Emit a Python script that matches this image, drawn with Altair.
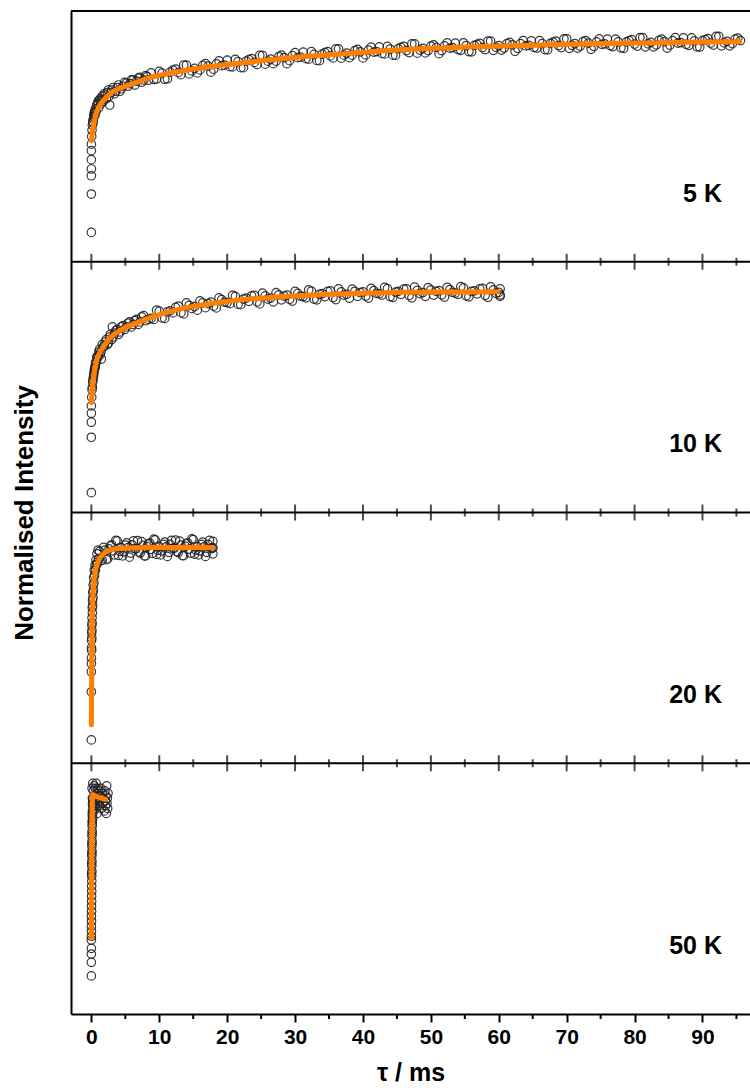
import altair as alt
import pandas as pd

FONT = "Liberation Sans"

PANELS = ["5 K", "10 K", "20 K", "50 K"]
MAJOR_TICKS = [0, 10, 20, 30, 40, 50, 60, 70, 80, 90]
MINOR_TICKS = [5, 15, 25, 35, 45, 55, 65, 75, 85, 95]

# ---------------- 5 K ----------------
T_5K = [0, 0, 0, 0, 0, 0, 0,
        0.05, 0.1, 0.15, 0.2, 0.3, 0.4, 0.5, 0.6, 0.7, 0.8,
        1.0, 1.2, 1.4, 1.6, 1.9, 2.2, 2.5, 2.7, 2.9, 3.2,
        3.6, 4.0, 4.4, 4.9, 5.4, 5.9, 6.4, 6.9, 7.4, 8.0, 8.4,
        8.8, 9.6, 10.4, 11.2, 12.0, 12.8, 13.6, 14.4, 15.2, 16.0,
        16.8, 17.6, 18.4, 19.2, 20.0, 20.8, 21.6, 22.4, 23.2, 24.0,
        24.8, 25.6, 26.4, 27.2, 28.0, 28.8, 29.6, 30.4, 31.2, 32.0,
        32.8, 33.6, 34.4, 35.2, 36.0, 36.8, 37.6, 38.4, 39.2, 40.0,
        40.8, 41.6, 42.4, 43.2, 44.0, 44.8, 45.6, 46.4, 47.2, 48.0,
        48.8, 49.6, 50.4, 51.2, 52.0, 52.8, 53.6, 54.4, 55.2, 56.0,
        56.8, 57.6, 58.4, 59.2, 60.0, 60.8, 61.6, 62.4, 63.2, 64.0,
        64.8, 65.6, 66.4, 67.2, 68.0, 68.8, 69.6, 70.4, 71.2, 72.0,
        72.8, 73.6, 74.4, 75.2, 76.0, 76.8, 77.6, 78.4, 79.2, 80.0,
        80.8, 81.6, 82.4, 83.2, 84.0, 84.8, 85.6, 86.4, 87.2, 88.0,
        88.8, 89.6, 90.4, 91.2, 92.0, 92.8, 93.6, 94.4, 95.2]
V_5K = [0.117, 0.27, 0.343, 0.37, 0.407, 0.443, 0.469,
        0.50, 0.525, 0.545, 0.56, 0.57, 0.59, 0.60, 0.61, 0.60, 0.625,
        0.64, 0.645, 0.63, 0.66, 0.67, 0.65, 0.685, 0.625, 0.675, 0.695,
        0.68, 0.705, 0.69, 0.715, 0.70, 0.725, 0.705, 0.732, 0.716, 0.742, 0.724,
        0.753, 0.729, 0.752, 0.730, 0.764, 0.754, 0.784, 0.749, 0.771, 0.765,
        0.790, 0.756, 0.789, 0.782, 0.804, 0.777, 0.798, 0.774, 0.806, 0.795,
        0.823, 0.788, 0.808, 0.800, 0.824, 0.790, 0.822, 0.814, 0.836, 0.808,
        0.827, 0.802, 0.834, 0.821, 0.849, 0.812, 0.832, 0.824, 0.847, 0.813,
        0.844, 0.836, 0.857, 0.829, 0.848, 0.824, 0.855, 0.842, 0.869, 0.832,
        0.851, 0.842, 0.865, 0.830, 0.861, 0.852, 0.872, 0.843, 0.862, 0.837,
        0.867, 0.854, 0.880, 0.843, 0.862, 0.852, 0.875, 0.839, 0.870, 0.861,
        0.881, 0.852, 0.870, 0.845, 0.876, 0.862, 0.889, 0.851, 0.870, 0.860,
        0.882, 0.847, 0.877, 0.867, 0.888, 0.858, 0.877, 0.851, 0.882, 0.868,
        0.894, 0.857, 0.875, 0.865, 0.888, 0.852, 0.882, 0.872, 0.893, 0.863,
        0.881, 0.856, 0.886, 0.872, 0.899, 0.861, 0.879, 0.870, 0.892]
T_5K_B = [0.25, 0.35, 0.45, 0.55, 0.9, 1.1, 1.3, 1.5, 1.75, 2.05,
          2.35, 2.6, 3.0, 3.4, 3.8, 4.2, 4.65, 5.15, 5.65, 6.15,
          6.65, 7.15, 7.7, 8.2,
          9.2, 10.0, 10.8, 11.6, 12.4, 13.2, 14.0, 14.8, 15.6, 16.4,
          17.2, 18.0, 18.8, 19.6, 20.4, 21.2, 22.0, 22.8, 23.6, 24.4,
          25.2, 26.0, 26.8, 27.6, 28.4, 29.2, 30.0, 30.8, 31.6, 32.4,
          33.2, 34.0, 34.8, 35.6, 36.4, 37.2, 38.0, 38.8, 39.6, 40.4,
          41.2, 42.0, 42.8, 43.6, 44.4, 45.2, 46.0, 46.8, 47.6, 48.4,
          49.2, 50.0, 50.8, 51.6, 52.4, 53.2, 54.0, 54.8, 55.6, 56.4,
          57.2, 58.0, 58.8, 59.6, 60.4, 61.2, 62.0, 62.8, 63.6, 64.4,
          65.2, 66.0, 66.8, 67.6, 68.4, 69.2, 70.0, 70.8, 71.6, 72.4,
          73.2, 74.0, 74.8, 75.6, 76.4, 77.2, 78.0, 78.8, 79.6, 80.4,
          81.2, 82.0, 82.8, 83.6, 84.4, 85.2, 86.0, 86.8, 87.6, 88.4,
          89.2, 90.0, 90.8, 91.6, 92.4, 93.2, 94.0, 94.8, 95.6]
V_5K_B = [0.555, 0.58, 0.595, 0.585, 0.63, 0.615, 0.65, 0.645, 0.64, 0.665,
          0.675, 0.66, 0.685, 0.67, 0.695, 0.68, 0.70, 0.712, 0.71, 0.725,
          0.72, 0.735, 0.725, 0.738,
          0.727, 0.759, 0.728, 0.756, 0.768, 0.746, 0.784, 0.761, 0.753, 0.783,
          0.780, 0.768, 0.801, 0.784, 0.778, 0.807, 0.774, 0.800, 0.810, 0.787,
          0.823, 0.800, 0.790, 0.818, 0.814, 0.802, 0.834, 0.816, 0.810, 0.838,
          0.803, 0.828, 0.838, 0.813, 0.849, 0.824, 0.814, 0.842, 0.837, 0.825,
          0.856, 0.838, 0.831, 0.859, 0.824, 0.850, 0.859, 0.834, 0.869, 0.844,
          0.833, 0.860, 0.855, 0.842, 0.873, 0.854, 0.846, 0.873, 0.838, 0.863,
          0.871, 0.846, 0.880, 0.855, 0.844, 0.870, 0.865, 0.851, 0.882, 0.863,
          0.855, 0.882, 0.846, 0.871, 0.880, 0.854, 0.889, 0.863, 0.852, 0.878,
          0.872, 0.859, 0.889, 0.869, 0.862, 0.888, 0.853, 0.877, 0.886, 0.860,
          0.894, 0.869, 0.857, 0.883, 0.878, 0.864, 0.894, 0.874, 0.867, 0.893,
          0.857, 0.882, 0.890, 0.864, 0.899, 0.873, 0.861, 0.888, 0.882]
FIT_T_5K = [0, 0.3, 0.6, 1.2, 2.0, 2.7, 4.0, 5.3, 6.6, 9.0, 11.5, 16.0, 21.4,
            26.0, 31.0, 38.0, 46.0, 55.0, 63.0, 70.0, 80.0, 88.0, 95.5]
FIT_V_5K = [0.483, 0.54, 0.58, 0.622, 0.65, 0.669, 0.69, 0.703, 0.715, 0.737,
            0.752, 0.773, 0.791, 0.805, 0.818, 0.831, 0.846, 0.856, 0.862,
            0.867, 0.872, 0.875, 0.878]

# ---------------- 10 K ----------------
T_10K = [0, 0, 0, 0, 0,
         0.05, 0.1, 0.15, 0.2, 0.3, 0.4, 0.5, 0.6, 0.7, 0.8,
         1.0, 1.2, 1.4, 1.47, 1.6, 1.9, 2.2, 2.5, 2.8, 3.1,
         3.2, 3.6, 4.0, 4.4, 4.9, 5.4, 5.9, 6.4, 6.9, 7.4, 8.0,
         8.8, 9.6, 10.4, 11.2, 12.0, 12.8, 13.6, 14.4, 15.2, 16.0,
         16.8, 17.6, 18.4, 19.2, 20.0, 20.8, 21.6, 22.4, 23.2, 24.0,
         24.8, 25.6, 26.4, 27.2, 28.0, 28.8, 29.6, 30.4, 31.2, 32.0,
         32.8, 33.6, 34.4, 35.2, 36.0, 36.8, 37.6, 38.4, 39.2, 40.0,
         40.8, 41.6, 42.4, 43.2, 44.0, 44.8, 45.6, 46.4, 47.2, 48.0,
         48.8, 49.6, 50.4, 51.2, 52.0, 52.8, 53.6, 54.4, 55.2, 56.0,
         56.8, 57.6, 58.4, 59.2, 60.0, 60.2, 60.2]
V_10K = [0.425, 0.396, 0.36, 0.30, 0.079,
         0.46, 0.49, 0.50, 0.52, 0.54, 0.56, 0.575, 0.59, 0.60, 0.62,
         0.625, 0.65, 0.64, 0.612, 0.67, 0.665, 0.69, 0.675, 0.71, 0.74,
         0.70, 0.725, 0.71, 0.74, 0.73, 0.755, 0.74, 0.765, 0.75, 0.78, 0.765,
         0.774, 0.807, 0.776, 0.800, 0.796, 0.823, 0.792, 0.826, 0.821, 0.844,
         0.817, 0.839, 0.816, 0.849, 0.837, 0.866, 0.831, 0.851, 0.842, 0.866,
         0.832, 0.864, 0.855, 0.877, 0.848, 0.867, 0.843, 0.874, 0.861, 0.888,
         0.851, 0.870, 0.861, 0.884, 0.849, 0.880, 0.870, 0.891, 0.862, 0.880,
         0.855, 0.885, 0.872, 0.898, 0.861, 0.879, 0.870, 0.892, 0.856, 0.886,
         0.877, 0.897, 0.867, 0.885, 0.859, 0.889, 0.875, 0.901, 0.864, 0.882,
         0.872, 0.894, 0.858, 0.888, 0.878, 0.892, 0.868]
T_10K_B = [0.25, 0.35, 0.45, 0.55, 0.65, 0.9, 1.1, 1.3, 1.75, 2.05,
           2.35, 2.65, 3.0, 3.4, 3.8, 4.2, 4.65, 5.15, 5.65, 6.15,
           6.65, 7.15, 7.7, 8.4,
           9.2, 10.0, 10.8, 11.6, 12.4, 13.2, 14.0, 14.8, 15.6, 16.4,
           17.2, 18.0, 18.8, 19.6, 20.4, 21.2, 22.0, 22.8, 23.6, 24.4,
           25.2, 26.0, 26.8, 27.6, 28.4, 29.2, 30.0, 30.8, 31.6, 32.4,
           33.2, 34.0, 34.8, 35.6, 36.4, 37.2, 38.0, 38.8, 39.6, 40.4,
           41.2, 42.0, 42.8, 43.6, 44.4, 45.2, 46.0, 46.8, 47.6, 48.4,
           49.2, 50.0, 50.8, 51.6, 52.4, 53.2, 54.0, 54.8, 55.6, 56.4,
           57.2, 58.0, 58.8, 59.6, 60.2]
V_10K_B = [0.53, 0.55, 0.57, 0.58, 0.60, 0.615, 0.64, 0.63, 0.66, 0.68,
           0.67, 0.70, 0.69, 0.715, 0.73, 0.72, 0.745, 0.74, 0.76, 0.75,
           0.77, 0.76, 0.785, 0.77,
           0.770, 0.803, 0.774, 0.804, 0.818, 0.797, 0.836, 0.814, 0.807, 0.836,
           0.833, 0.823, 0.856, 0.839, 0.833, 0.862, 0.829, 0.855, 0.864, 0.840,
           0.875, 0.851, 0.840, 0.868, 0.863, 0.850, 0.882, 0.863, 0.856, 0.883,
           0.848, 0.873, 0.882, 0.857, 0.892, 0.867, 0.855, 0.882, 0.877, 0.863,
           0.894, 0.874, 0.867, 0.893, 0.858, 0.882, 0.891, 0.865, 0.899, 0.873,
           0.862, 0.888, 0.882, 0.868, 0.898, 0.878, 0.870, 0.896, 0.860, 0.884,
           0.892, 0.866, 0.900, 0.874, 0.862]
FIT_T_10K = [0, 0.2, 0.49, 0.8, 1.2, 2.0, 2.7, 4.0, 5.0, 6.6, 9.0, 11.5, 15.0,
             18.9, 22.0, 26.2, 31.0, 36.1, 41.0, 45.9, 52.0, 59.9]
FIT_V_10K = [0.438, 0.51, 0.568, 0.61, 0.635, 0.67, 0.695, 0.722, 0.738, 0.755,
             0.78, 0.801, 0.822, 0.838, 0.848, 0.857, 0.865, 0.871, 0.875,
             0.878, 0.879, 0.880]

# ---------------- 20 K ----------------
T_20K = [0, 0, 0, 0,
         0.01, 0.02, 0.03, 0.04, 0.05, 0.06, 0.07, 0.08, 0.1, 0.11,
         0.13, 0.15, 0.17, 0.19, 0.21, 0.24, 0.27, 0.3, 0.34, 0.38,
         0.43, 0.48, 0.54, 0.6, 0.67, 0.74, 0.82, 0.9, 0.98, 1.05,
         1.2, 1.6, 2.0, 2.4, 2.8, 3.2, 3.6, 4.0, 4.4, 4.8,
         5.2, 5.6, 6.0, 6.4, 6.8, 7.2, 7.6, 8.0, 8.4, 8.8,
         9.2, 9.6, 10.0, 10.4, 10.8, 11.2, 11.6, 12.0, 12.4, 12.8,
         13.2, 13.6, 14.0, 14.4, 14.8, 15.2, 15.6, 16.0, 16.4, 16.8,
         17.2, 17.6, 17.9, 17.9, 17.9]
V_20K = [0.093, 0.285, 0.365, 0.398,
         0.42, 0.46, 0.49, 0.45, 0.52, 0.50, 0.55, 0.53, 0.58, 0.56,
         0.62, 0.60, 0.65, 0.63, 0.68, 0.66, 0.71, 0.69, 0.74, 0.72,
         0.77, 0.75, 0.79, 0.77, 0.81, 0.79, 0.835, 0.80, 0.85, 0.815,
         0.845, 0.810, 0.850, 0.815, 0.867, 0.847, 0.889, 0.829, 0.860, 0.844,
         0.879, 0.822, 0.871, 0.855, 0.888, 0.838, 0.869, 0.827, 0.875, 0.853,
         0.894, 0.833, 0.864, 0.847, 0.882, 0.825, 0.873, 0.857, 0.890, 0.840,
         0.870, 0.828, 0.876, 0.854, 0.895, 0.834, 0.864, 0.847, 0.882, 0.825,
         0.873, 0.857, 0.885, 0.835, 0.86]
T_20K_B = [1.4, 1.8, 2.2, 2.6, 3.0, 3.4, 3.8, 4.2, 4.6, 5.0,
           5.4, 5.8, 6.2, 6.6, 7.0, 7.4, 7.8, 8.2, 8.6, 9.0,
           9.4, 9.8, 10.2, 10.6, 11.0, 11.4, 11.8, 12.2, 12.6, 13.0,
           13.4, 13.8, 14.2, 14.6, 15.0, 15.4, 15.8, 16.2, 16.6, 17.0,
           17.4, 17.8]
V_20K_B = [0.807, 0.861, 0.812, 0.855, 0.871, 0.831, 0.887, 0.845, 0.827, 0.870,
           0.860, 0.838, 0.887, 0.855, 0.842, 0.884, 0.827, 0.865, 0.878, 0.837,
           0.891, 0.849, 0.831, 0.873, 0.863, 0.841, 0.889, 0.857, 0.844, 0.886,
           0.828, 0.866, 0.879, 0.838, 0.892, 0.850, 0.831, 0.873, 0.863, 0.841,
           0.889, 0.857]
FIT_T_20K = [0, 0.02, 0.05, 0.1, 0.24, 0.49, 0.98, 1.72, 2.7, 4.66, 8.0, 17.9]
FIT_V_20K = [0.153, 0.25, 0.38, 0.53, 0.671, 0.751, 0.804, 0.833, 0.850,
             0.857, 0.860, 0.860]

# ---------------- 50 K ----------------
T_50K = [0, 0, 0, 0, 0,
         0.0, 0.01, 0.0, 0.02, 0.01, 0.03, 0.02, 0.04, 0.03, 0.05,
         0.04, 0.06, 0.05, 0.07, 0.06, 0.08, 0.07, 0.09, 0.08, 0.1,
         0.09, 0.11, 0.12, 0.13, 0.14, 0.16, 0.18,
         0.03, 0.05, 0.07, 0.09, 0.11, 0.13, 0.15, 0.17, 0.19, 0.21,
         0.1, 0.15, 0.2, 0.25, 0.3, 0.35, 0.4, 0.45, 0.5, 0.55,
         0.6, 0.65, 0.7, 0.75, 0.8, 0.85, 0.9, 0.95, 1.0, 1.05,
         1.1, 1.2, 1.3, 1.4, 1.5, 1.6, 1.7, 1.8, 1.9, 2.0,
         2.05, 2.1, 2.15, 2.2, 2.25, 2.3, 2.35, 2.4, 2.45]
V_50K = [0.152, 0.206, 0.239, 0.262, 0.295,
         0.31, 0.33, 0.35, 0.37, 0.39, 0.41, 0.43, 0.45, 0.47, 0.49,
         0.51, 0.53, 0.55, 0.57, 0.59, 0.61, 0.63, 0.65, 0.67, 0.69,
         0.71, 0.73, 0.75, 0.77, 0.79, 0.81, 0.83,
         0.56, 0.60, 0.64, 0.68, 0.72, 0.76, 0.80, 0.84, 0.78, 0.86,
         0.90, 0.86, 0.92, 0.84, 0.89, 0.81, 0.91, 0.86, 0.83, 0.90,
         0.87, 0.82, 0.92, 0.85, 0.88, 0.80, 0.90, 0.86, 0.84, 0.89,
         0.83, 0.87, 0.85, 0.90, 0.82, 0.88, 0.84, 0.86, 0.81, 0.89,
         0.85, 0.83, 0.87, 0.80, 0.91, 0.84, 0.86, 0.82, 0.88]
T_50K_B = []
V_50K_B = []
FIT_T_50K = [0, 0.02, 0.05, 0.1, 0.2, 0.4, 1.0, 2.1]
FIT_V_50K = [0.302, 0.45, 0.62, 0.76, 0.875, 0.872, 0.865, 0.856]

# ---------------- layout ----------------
W, H = 679, 1003
OFFSET = {"5 K": 3, "10 K": 2, "20 K": 1, "50 K": 0}
LABEL_POS = 0.24

series = {
    "5 K": (T_5K + T_5K_B, V_5K + V_5K_B, FIT_T_5K, FIT_V_5K),
    "10 K": (T_10K + T_10K_B, V_10K + V_10K_B, FIT_T_10K, FIT_V_10K),
    "20 K": (T_20K + T_20K_B, V_20K + V_20K_B, FIT_T_20K, FIT_V_20K),
    "50 K": (T_50K + T_50K_B, V_50K + V_50K_B, FIT_T_50K, FIT_V_50K),
}

pts, fits = [], []
for p, (ts, vs, ft, fv) in series.items():
    for t, v in zip(ts, vs):
        pts.append({"t": t, "y": v + OFFSET[p], "panel": p})
    for t, v in zip(ft, fv):
        fits.append({"t": t, "y": v + OFFSET[p], "panel": p})
pts = pd.DataFrame(pts)
fits = pd.DataFrame(fits)

labels = pd.DataFrame({"panel": PANELS,
                       "y": [OFFSET[p] + LABEL_POS for p in PANELS]})
bounds = pd.DataFrame({"y": [1, 2, 3, 4]})
major_b = pd.DataFrame([{"t": t, "y": b} for b in [1, 2, 3] for t in MAJOR_TICKS])
minor_b = pd.DataFrame([{"t": t, "y": b} for b in [1, 2, 3] for t in MINOR_TICKS])
minor_bottom = pd.DataFrame({"t": MINOR_TICKS})

x_axis = alt.Axis(values=MAJOR_TICKS, title="τ / ms", grid=False, format="d",
                  tickSize=8, tickWidth=2, tickColor="black",
                  domainColor="black", domainWidth=2,
                  labelFont=FONT, labelFontSize=21, labelFontWeight="bold",
                  labelColor="black", labelPadding=4, labelFlush=False,
                  titleFont=FONT, titleFontSize=25, titleFontWeight="bold",
                  titleColor="black", titlePadding=13)
y_axis = alt.Axis(title="Normalised Intensity", labels=False, ticks=False,
                  grid=False, domainColor="black", domainWidth=2,
                  titleFont=FONT, titleFontSize=26, titleFontWeight="bold",
                  titleColor="black", titlePadding=34)

X = alt.X("t:Q", scale=alt.Scale(domain=[-3, 97], nice=False, zero=False), axis=x_axis)
Y = alt.Y("y:Q", scale=alt.Scale(domain=[0, 4], nice=False, zero=False), axis=y_axis)

scatter = alt.Chart(pts).mark_point(shape="circle", filled=False, size=72,
                                    stroke="#222222", strokeWidth=1.2,
                                    opacity=0.9).encode(x=X, y=Y)
fit = alt.Chart(fits).mark_line(color="#FF7F00", strokeWidth=5,
                                interpolate="monotone", strokeCap="round").encode(
    x=X, y=Y, detail="panel:N")
border = alt.Chart(bounds).mark_rule(color="black", strokeWidth=2).encode(
    y=Y, x=alt.value(0), x2=alt.value(W))
tick_major = alt.Chart(major_b).mark_tick(orient="vertical", size=16, thickness=2,
                                          color="black").encode(x=X, y=Y)
tick_minor = alt.Chart(minor_b).mark_tick(orient="vertical", size=8, thickness=2,
                                          color="black").encode(x=X, y=Y)
tick_bottom = alt.Chart(minor_bottom).mark_rule(color="black", strokeWidth=2).encode(
    x=X, y=alt.value(H), y2=alt.value(H + 5))
text = alt.Chart(labels).mark_text(font=FONT, fontSize=25, fontWeight="bold",
                                   align="right", baseline="alphabetic",
                                   color="black").encode(
    x=alt.value(651), y=Y, text="panel:N")

chart = alt.layer(scatter, fit, border, tick_major, tick_minor, tick_bottom, text).properties(
    width=W, height=H,
    autosize=alt.AutoSizeParams(type="none"),
    padding={"left": 71, "top": 11, "right": 0, "bottom": 74},
).configure_view(stroke=None)

chart.save("out.html", embed_options={"renderer": "svg", "actions": False})
